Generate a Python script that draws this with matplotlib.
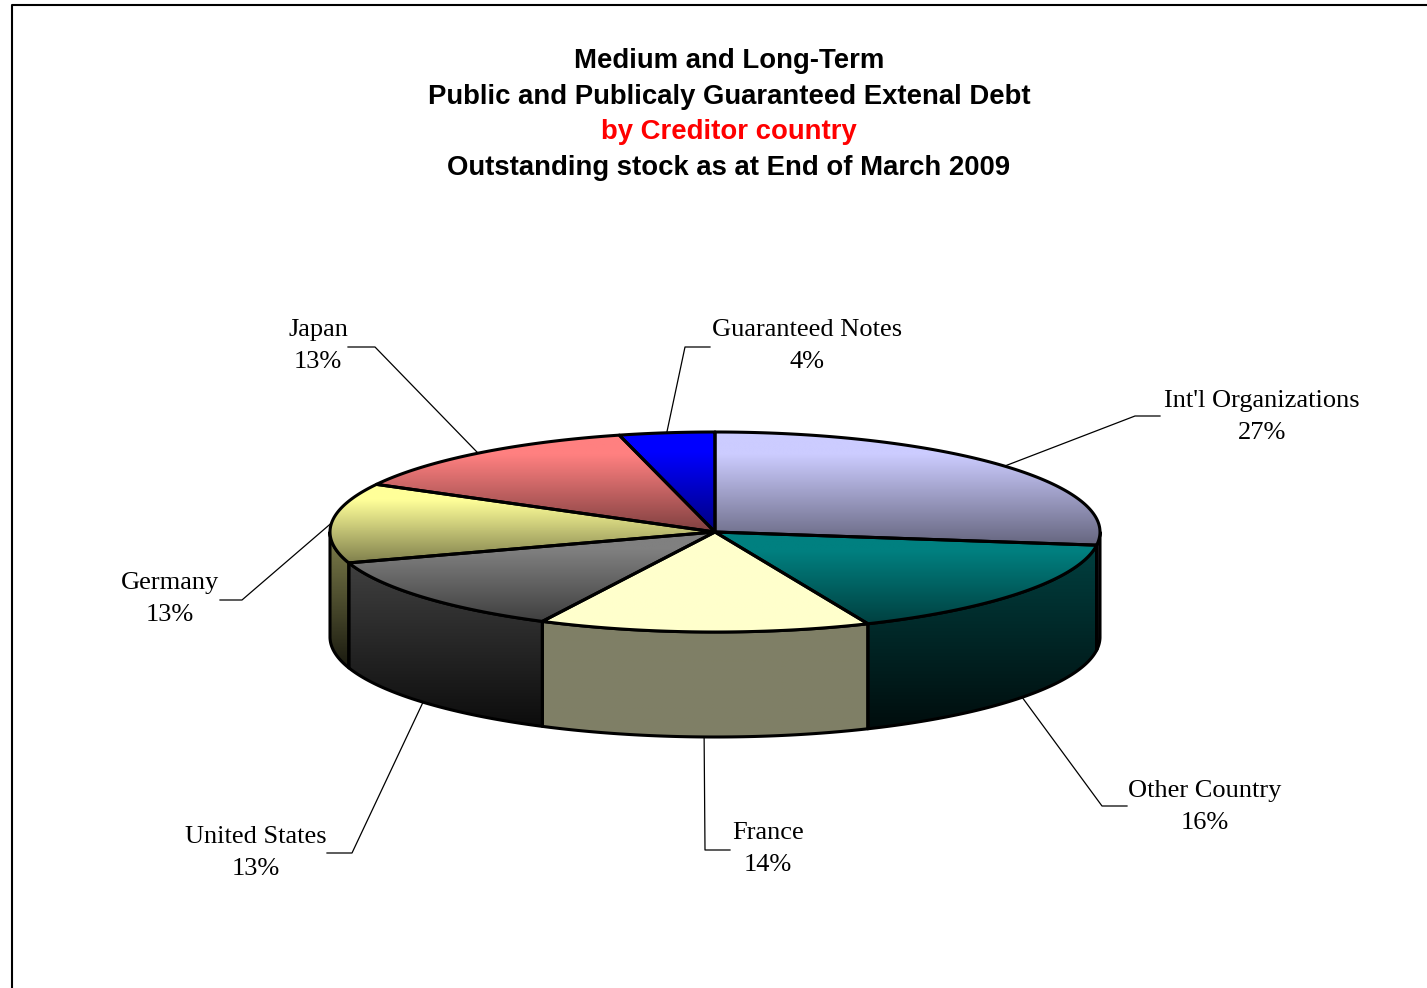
import numpy as np
import matplotlib
matplotlib.use("Agg")
import matplotlib.pyplot as plt
from matplotlib.patches import Polygon
from matplotlib.colors import to_rgb

# --- Data ---
creditors = ["Int'l Organizations", "Other Country", "France", "United States",
             "Germany", "Japan", "Guaranteed Notes"]
shares = [27.1, 16.4, 13.9, 12.6, 12.9, 13.1, 4.0]
pct_labels = [f"{round(v):.0f}%" for v in shares]

title_lines = ["Medium and Long-Term",
               "Public and Publicaly Guaranteed Extenal Debt",
               "by Creditor country",
               "Outstanding stock as at End of March 2009"]

# --- Style ---
top_colors = ["#CCCCFF", "#008080", "#FFFFCC", "#808080", "#FFFF99", "#FF8080", "#0000FF"]
shaded = [True, True, False, True, True, True, True]

# pie geometry (pixels)
W, H = 1427, 988
cx, cy = 715, 532
rx, ry = 385, 100
depth = 105

# label text centre + elbow of the leader line (elbow x, elbow y, end x)
label_xy = [(1262, 417), (1205, 807), (768, 849), (256, 853),
            (170, 599), (318, 346), (807, 346)]
elbows = [(1135, 416, 1160), (1102, 806, 1127), (705, 850, 730),
          (352, 853, 327), (242, 600, 220), (375, 347, 348), (685, 347, 710)]

fig = plt.figure(figsize=(W / 100, H / 100), dpi=100)
ax = fig.add_axes([0, 0, 1, 1])
ax.axis("off")


def ell(t_deg, dy=0.0):
    t = np.radians(t_deg)
    return cx + rx * np.cos(t), cy - ry * np.sin(t) + dy


def grad_fill(points, c_top, c_bot, z, hold=0.0):
    patch = Polygon(points, closed=True, facecolor="none", edgecolor="none",
                    transform=ax.transData)
    ax.add_patch(patch)
    x0, y0 = points.min(axis=0)
    x1, y1 = points.max(axis=0)
    f = np.clip((np.linspace(0, 1, 128) - hold) / (1 - hold), 0, 1)[:, None, None]
    img = np.array(c_top)[None, None, :] * (1 - f) + np.array(c_bot)[None, None, :] * f
    img = np.repeat(img, 2, axis=1)
    im = ax.imshow(img, extent=(x0, x1, y1, y0), origin="upper", aspect="auto",
                   interpolation="bilinear", zorder=z)
    im.set_clip_path(patch)
    ax.add_patch(Polygon(points, closed=True, facecolor="none", edgecolor="black",
                         lw=2.2, joinstyle="round", zorder=z + 0.5))


# slice angles, starting at 12 o'clock going clockwise
bounds = 90 - 3.6 * np.concatenate([[0], np.cumsum(shares)])

# side walls (front half only)
for i, c in enumerate(top_colors):
    a1, a2 = bounds[i], bounds[i + 1]
    lo, hi = max(a2, -180), min(a1, 0)
    if hi <= lo:
        continue
    t = np.linspace(hi, lo, 80)
    xs, ys = ell(t)
    pts = np.concatenate([np.column_stack([xs, ys]),
                          np.column_stack([xs[::-1], ys[::-1] + depth])])
    rgb = np.array(to_rgb(c))
    if shaded[i]:
        grad_fill(pts, rgb * 0.5, rgb * 0.1, 2)
    else:
        grad_fill(pts, rgb * 0.5, rgb * 0.5, 2)

# top faces
for i, c in enumerate(top_colors):
    t = np.linspace(bounds[i], bounds[i + 1], 120)
    xs, ys = ell(t)
    pts = np.vstack([[cx, cy], np.column_stack([xs, ys])])
    rgb = np.array(to_rgb(c))
    if shaded[i]:
        grad_fill(pts, rgb, rgb * 0.5, 4, hold=0.2)
    else:
        grad_fill(pts, rgb, rgb, 4)

# leader lines and labels
for i, name in enumerate(creditors):
    mid = (bounds[i] + bounds[i + 1]) / 2
    dy = depth if np.sin(np.radians(mid)) < 0 else 0
    axx, ayy = ell(mid, dy)
    ex, ey, end_x = elbows[i]
    ax.plot([axx, ex, end_x], [ayy, ey, ey], color="black", lw=0.9, zorder=1)
    tx, ty = label_xy[i]
    ax.text(tx, ty, name + "\n" + pct_labels[i], ha="center", va="center",
            fontsize=19, family="Liberation Serif", linespacing=1.55, zorder=6)

# title
title_y = [61, 97, 132, 168]
for line, y in zip(title_lines, title_y):
    ax.text(729, y, line, ha="center", va="center", fontsize=19.8,
            fontweight="bold", family="Liberation Sans",
            color="red" if line.startswith("by") else "black")

# chart border
ax.plot([12, 12, W + 5], [H + 5, 5, 5], color="black", lw=1.5, zorder=7)

ax.set_xlim(0, W)
ax.set_ylim(H, 0)
fig.savefig("out.png", dpi=100)
